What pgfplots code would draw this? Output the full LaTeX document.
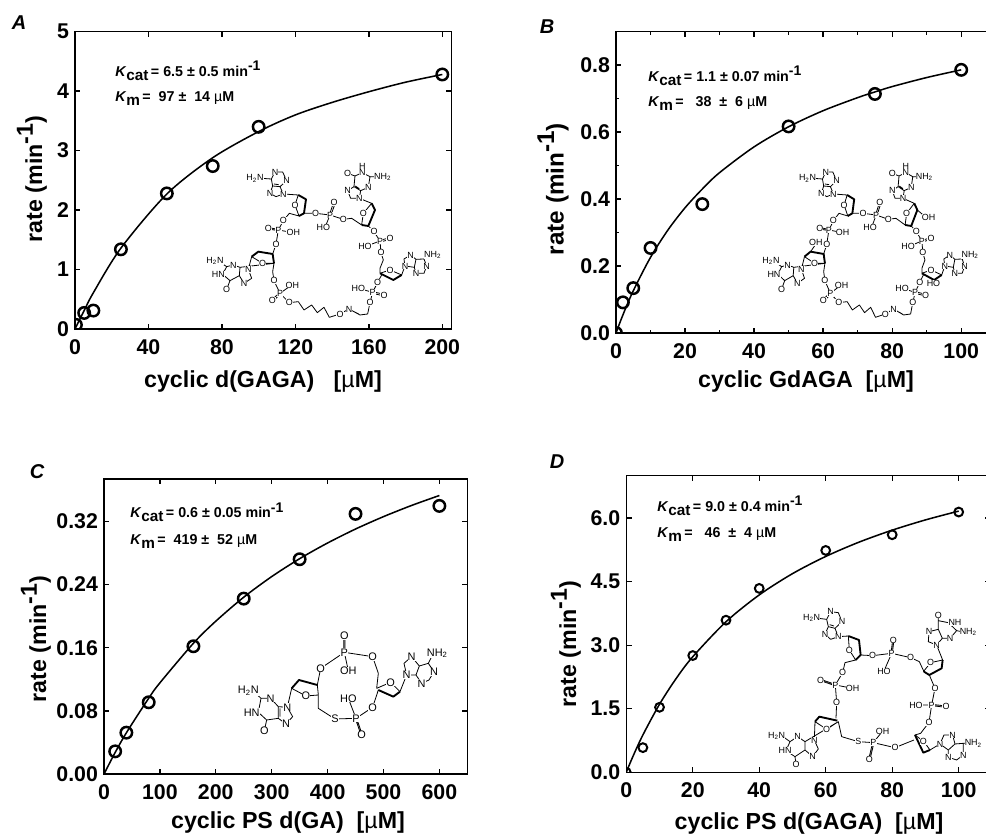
\documentclass[border=0pt]{standalone}
\usepackage{pgfplots}
\pgfplotsset{compat=1.18}
\usepackage{fontspec}
\setmainfont{Liberation Sans}
\newcommand\fs[1]{\fontsize{#1}{#1}\selectfont}
\newcommand\subt[1]{\textsubscript{#1}}
\newcommand\mum{{\mdseries µ}M}
\tikzset{atom/.style={inner sep=0.15pt,fill=white,font=\fs{6.7}},
  bond/.style={line width=0.6pt,line join=round},
  wedge/.style={line width=1.4pt,line join=round},
  lab/.style={font=\fs{17.4}\bfseries,inner sep=0pt},
  note/.style={font=\fs{10.7}\bfseries,inner sep=0pt,anchor=base west},
  pan/.style={font=\fs{15}\bfseries\itshape,inner sep=0pt}}
\newcommand\at[2]{\node[atom] at (#1) {#2};}
\pgfplotsset{panel/.style={
  scale only axis, clip marker paths=true, axis line style={line width=1pt},
  tick align=inside, tick style={line width=1pt,black},
  major tick length=4pt, minor tick length=2.4pt,
  ticklabel style={font=\fs{16}\bfseries},
  /pgf/number format/assume math mode=true,
  xticklabel style={yshift=-4.5pt}, yticklabel style={xshift=-1pt},
  scaled ticks=false},
  curve/.style={black,line width=1.15pt,no marks,smooth},
  pts/.style={only marks,mark=o,mark options={line width=1.85pt,black,fill=none},black}}
\newcommand\note[6]{%
 \node[note] at (#1,#2) {\textit{K}\raisebox{-2.8pt}{\fs{11.5}cat}\,= #4 min\raisebox{4.5pt}{\fs{10.5}-1}};
 \node[note] at (#1,#3) {\textit{K}\raisebox{-2.8pt}{\fs{11.5}m}\,=#5};}
\newcommand\StructGAGA{%
 \draw[bond] (214,57)--(225,36)--(248,36)--(260,62)--(240,80)--(218,78)--cycle (218,78)--(210,100)--(228,110)--(250,102)--(240,80) (222,72)--(236,74) (214,57)--(185,55) (250,102)--(295,105)--(285,135)--(297,168)--(268,160)--(250,182)--(235,210)--(228,253)--(218,282) (312,160)--(347,160)--(390,165)--(430,178)--(455,175)--(485,195)
 (390,165)--(378,195) (388,165)--(400,130) (393,166)--(405,131);
 \draw[wedge] (297,168)--(312,160)--(318,118)--(295,105);
 \draw[bond] (515,130)--(490,160)--(485,195) (478,115)--(515,130) (462,80)--(465,48)--(487,38)--(510,50)--(505,82)--(482,92)--cycle (462,80)--(443,92)--(452,115)--(478,115)--(482,92) (465,48)--(443,40) (510,50)--(530,50) (487,38)--(487,25) (466,78)--(478,86);
 \draw[wedge] (485,195)--(505,198)--(525,150)--(515,130);
 \draw[bond] (505,198)--(522,215)--(540,243)--(543,278)--(550,300)--(540,325)--(540,340) (540,243)--(495,260) (540,241)--(570,233) (541,246)--(571,238);
 \draw[wedge] (540,340)--(580,360)--(605,345);
 \draw[bond] (540,340)--(570,330)--(605,345)--(615,318) (615,318)--(612,297)--(632,285)--(648,298)--(643,322)--cycle (648,298)--(672,297)--(680,318)--(672,340)--(648,340)--(643,322) (672,297)--(690,285);
 \draw[bond] (545,345)--(533,367)--(518,397)--(510,428)--(503,462)--(480,465)--(447,447)--(420,462)--(388,472)--(372,442)--(352,458)--(335,435)--(312,450)--(295,425)--(268,428)--(240,400)--(222,362)--(218,335)--(222,310)--(218,282) (518,397)--(475,385) (518,395)--(552,403) (518,400)--(552,408) (476,462)--(452,450) (240,400)--(275,375) (238,399)--(215,420) (242,402)--(219,423);
 \draw[wedge] (222,310)--(218,282)--(175,275)--(155,290);
 \draw[bond] (222,310)--(188,310)--(155,290)--(145,328)--(155,355)--(132,370)--(118,347)--(120,322)--cycle (120,322)--(100,315)--(80,320)--(68,343)--(90,362)--(118,347) (90,362)--(80,388) (80,320)--(62,308);
 \draw[bond] (235,210)--(280,218) (235,208)--(205,203) (235,212)--(205,207);
 \at{165,55}{H\subt{2}N}\at{225,36}{N}\at{260,62}{N}\at{210,100}{N}\at{250,102}{N}
 \at{285,135}{O}\at{250,182}{O}\at{347,160}{O}\at{390,165}{P}\at{402,128}{O}\at{370,203}{HO}\at{430,178}{O}
 \at{490,160}{O}\at{487,18}{H}\at{487,38}{N}\at{443,40}{O}\at{548,50}{NH\subt{2}}\at{505,82}{N}\at{443,92}{N}\at{478,115}{N}
 \at{522,215}{O}\at{540,243}{P}\at{570,235}{O}\at{495,260}{HO}\at{543,278}{O}
 \at{570,330}{O}\at{615,318}{N}\at{632,285}{N}\at{698,285}{NH\subt{2}}\at{680,318}{N}\at{648,340}{N}
 \at{533,367}{O}\at{518,397}{P}\at{552,405}{O}\at{475,385}{HO}\at{510,428}{O}\at{447,447}{N}\at{420,462}{O}
 \at{268,428}{O}\at{240,400}{P}\at{277,375}{OH}\at{217,422}{O}\at{222,362}{O}
 \at{188,310}{O}\at{228,253}{O}\at{235,210}{P}\at{205,205}{O}\at{280,218}{OH}
 \at{145,328}{N}\at{132,370}{N}\at{100,315}{N}\at{45,303}{H\subt{2}N}\at{55,343}{HN}\at{80,388}{O}}
\begin{document}
\begin{tikzpicture}[x=0.75pt,y=0.75pt]
\useasboundingbox (0,0) rectangle (986,833);
\clip (0,0) rectangle (986,833);
% ---------- A
\begin{axis}[panel,at={(56.25pt,378pt)},anchor=south west,width=282.5pt,height=223pt,
  xmin=0,xmax=205.1,ymin=0,ymax=5,xtick={0,40,80,120,160,200},ytick={0,1,2,3,4,5}]
\addplot[curve] coordinates {(0,0)(5,0.31)(10,0.61)(25,1.36)(50,2.27)(75,2.88)(100,3.32)(120,3.60)(140,3.81)(160,3.99)(180,4.15)(200,4.28)};
\addplot[pts,mark size=4.3pt] coordinates {(0.5,0.07)(5,0.27)(10,0.31)(25,1.34)(50,2.28)(75,2.74)(100,3.40)(200,4.28)};
\end{axis}
% ---------- B
\begin{axis}[panel,at={(462pt,375pt)},anchor=south west,width=283.5pt,height=226pt,
  xmin=0,xmax=109.5,ymin=0,ymax=0.9,xtick={0,20,40,60,80,100},minor xtick={10,30,50,70,90},
  ytick={0,0.2,0.4,0.6,0.8},yticklabels={0.0,0.2,0.4,0.6,0.8},minor ytick={0.1,0.3,0.5,0.7},
  ytick pos=left]
\addplot[curve] coordinates {(0,0)(2,0.054)(5,0.126)(10,0.226)(15,0.307)(20,0.374)(25,0.43)(30,0.479)(40,0.556)(50,0.616)(60,0.664)(70,0.703)(75,0.720)(80,0.736)(90,0.763)(100,0.786)};
\addplot[pts,mark size=4.3pt] coordinates {(0,0)(2,0.0915)(5,0.134)(10,0.254)(25,0.385)(50,0.617)(75,0.714)(100,0.786)};
\end{axis}
% ---------- C
\begin{axis}[panel,at={(78pt,44.25pt)},anchor=south west,width=272.5pt,height=221.3pt,
  xmin=0,xmax=650,ymin=0,ymax=0.374,xtick={0,100,...,600},
  ytick={0,0.08,0.16,0.24,0.32},yticklabels={0.00,0.08,0.16,0.24,0.32}]
\addplot[curve] coordinates {(0,0)(20,0.0273)(40,0.0522)(80,0.0961)(100,0.1155)(160,0.1657)(200,0.1937)(250,0.2241)(300,0.2502)(350,0.2729)(400,0.2928)(450,0.3105)(500,0.3262)(550,0.3403)(600,0.3530)};
\addplot[pts,mark size=4.3pt] coordinates {(20,0.0287)(40,0.0524)(80,0.0909)(160,0.1619)(250,0.2223)(350,0.2722)(450,0.3297)(600,0.3398)};
\end{axis}
% ---------- D
\begin{axis}[panel,at={(469.7pt,45.5pt)},anchor=south west,width=273pt,height=222.5pt,
  xmin=0,xmax=109.5,ymin=0,ymax=7,xtick={0,20,40,60,80,100},
  ytick={0,1.5,3,4.5,6},yticklabels={0.0,1.5,3.0,4.5,6.0}]
\addplot[curve] coordinates {(0,0)(2,0.375)(5,0.882)(10,1.607)(15,2.213)(20,2.727)(30,3.553)(40,4.186)(50,4.688)(60,5.094)(70,5.431)(80,5.714)(90,5.956)(100,6.164)};
\addplot[pts,mark size=3.3pt,mark options={line width=1.5pt}] coordinates {(0,0)(5,0.583)(10,1.535)(20,2.756)(30,3.59)(40,4.34)(60,5.236)(80,5.606)(100,6.142)};
\end{axis}
% ---------- labels
\node[pan] at (19,810) {A};
\node[pan] at (547,806) {B};
\node[pan] at (37,361) {C};
\node[pan] at (557,371) {D};
\node[lab,rotate=90] at (36,194) {rate (min\raisebox{7pt}{-1})};
\node[lab,rotate=90] at (566,189) {rate (min\raisebox{7pt}{-1})};
\node[lab,rotate=90] at (32,654) {rate (min\raisebox{7pt}{-1})};
\node[lab,rotate=90,font=\fs{18.2}\bfseries] at (553,644) {rate (min\raisebox{7pt}{-1})};
\node[lab] at (263,451) {cyclic d(GAGA)\ \ \ [\mum]};
\node[lab] at (806,451) {cyclic GdAGA\ \ [\mum]};
\node[lab] at (288,11) {cyclic PS d(GA)\ \ [\mum]};
\node[lab] at (809,10) {cyclic PS d(GAGA)\ \ [\mum]};
\note{115}{756}{731}{6.5 ± 0.5}{\ \ 97 ±\ \ 14 \mum}{}
\note{648}{751}{726}{1.1 ± 0.07}{\ \ \ 38\ \ ±\ \ 6 \mum}{}
\note{130}{315}{288}{0.6 ± 0.05}{\ \ 419 ±\ \ 52 \mum}{}
\note{657}{321}{295}{9.0 ± 0.4}{\ \ \ 46\ \ ±\ \ 4 \mum}{}
% ---------- structures
\begin{scope}[shift={(200,673)},xscale=0.3333,yscale=-0.3333]
 \StructGAGA
\end{scope}
\begin{scope}[shift={(757.2,673)},xscale=0.305,yscale=-0.3333]
 \StructGAGA
 \draw[bond] (175,275)--(188,258) (525,150)--(548,168) (580,360)--(574,372);
 \at{192,248}{OH}\at{562,172}{OH}\at{578,371}{HO}
\end{scope}
\begin{scope}[shift={(230,213)},xscale=0.3333,yscale=-0.3333,atom/.append style={font=\fs{8.2}}]
 \draw[bond] (93,235)--(122,235)--(145,260)--(145,295)--(110,300)--(85,277)--cycle (145,260)--(172,262)--(188,290)--(168,312)--(145,295) (93,235)--(75,218) (110,300)--(103,332) (150,265)--(150,290)
 (172,262)--(185,205)--(228,228)--(265,225)--(262,195)--(272,145)--(343,97)--(428,110)--(445,160)--(440,205)--(482,187)--(510,215)--(530,165) (265,225)--(265,265)--(315,297)--(378,295)--(428,262)--(445,210) (341,97)--(341,47) (345,97)--(345,47) (343,97)--(355,152) (378,295)--(355,235) (376,295)--(393,345) (380,295)--(397,345)
 (530,165)--(522,130)--(545,110)--(568,138)--(558,165)--cycle (568,138)--(595,130)--(612,155)--(597,180)--(575,190)--(558,165) (595,130)--(605,110);
 \draw[wedge] (185,205)--(207,180)--(262,195);
 \draw[wedge] (445,210)--(490,230)--(510,215);
 \at{55,213}{H\subt{2}N}\at{122,235}{N}\at{65,277}{HN}\at{103,332}{O}\at{172,262}{N}\at{168,312}{N}
 \at{228,228}{O}\at{272,145}{O}\at{343,97}{P}\at{343,47}{O}\at{355,152}{OH}\at{428,110}{O}\at{482,187}{O}
 \at{428,262}{O}\at{378,295}{P}\at{355,235}{HO}\at{395,345}{O}\at{315,297}{S}
 \at{530,165}{N}\at{545,110}{N}\at{622,100}{NH\subt{2}}\at{612,155}{N}\at{575,190}{N}
\end{scope}
\begin{scope}[shift={(760,233)},xscale=0.3333,yscale=-0.3333]
 \draw[bond] (200,58)--(212,35)--(235,38)--(246,65)--(225,85)--(205,80)--cycle (205,80)--(195,103)--(212,118)--(235,110)--(225,85) (200,58)--(175,55) (209,74)--(222,78)
 (235,110)--(265,108)--(268,150)--(287,180)--(255,188)--(248,218)--(226,255)--(230,308)--(228,355) (226,255)--(278,265) (225,253)--(182,238) (225,257)--(182,242)
 (302,165)--(338,167)--(395,160)--(452,173)--(478,185)--(492,215) (395,160)--(372,213) (393,160)--(398,120) (397,160)--(402,120)
 (490,215)--(512,188)--(548,180)--(530,135) (508,225)--(525,265)--(515,315)--(507,367)--(482,400) (515,313)--(558,318) (515,317)--(558,322) (515,315)--(468,315)
 (530,135)--(505,125)--(507,95)--(535,88)--(547,115)--cycle (535,88)--(535,62)--(565,68)--(590,92)--(570,115)--(547,115) (535,62)--(535,45) (590,92)--(605,95)
 (482,400)--(465,405)--(492,425)--(510,450)--(540,432) (462,420)--(405,443)--(340,428)--(295,425)--(245,410)--(235,365) (340,428)--(368,393) (338,428)--(326,478) (342,428)--(330,478)
 (540,432)--(552,405)--(578,405)--(585,432)--(565,450)--cycle (585,432)--(610,430)--(610,465)--(590,480)--(565,472)--(565,450) (610,430)--(625,430)
 (235,365)--(200,388)--(165,365)--(163,420)--(175,447)--(158,470)--(135,450)--(135,425)--cycle (135,425)--(113,410)--(90,425)--(78,452)--(105,470)--(135,450) (105,470)--(108,493) (90,425)--(72,412);
 \draw[wedge] (287,180)--(302,165)--(297,120)--(265,108);
 \draw[wedge] (492,215)--(508,225)--(545,205)--(548,180);
 \draw[wedge] (465,405)--(490,458)--(510,450);
 \draw[wedge] (232,362)--(178,350)--(165,365);
 \at{155,53}{H\subt{2}N}\at{212,35}{N}\at{246,65}{N}\at{195,103}{N}\at{235,110}{N}
 \at{268,150}{O}\at{248,218}{O}\at{226,255}{P}\at{182,240}{O}\at{278,265}{OH}\at{230,308}{O}
 \at{338,167}{O}\at{395,160}{P}\at{400,120}{O}\at{372,213}{HO}\at{452,173}{O}
 \at{512,188}{O}\at{530,135}{N}\at{507,95}{N}\at{535,45}{O}\at{585,68}{NH}\at{625,95}{NH\subt{2}}\at{570,115}{N}
 \at{525,265}{O}\at{515,315}{P}\at{468,315}{HO}\at{558,320}{O}\at{507,367}{O}
 \at{490,425}{O}\at{540,432}{N}\at{578,405}{N}\at{640,430}{NH\subt{2}}\at{610,465}{N}\at{565,472}{N}
 \at{405,443}{O}\at{340,428}{P}\at{368,393}{OH}\at{328,478}{O}\at{295,425}{S}
 \at{200,388}{O}\at{163,420}{N}\at{158,470}{N}\at{113,410}{N}\at{50,408}{H\subt{2}N}\at{75,452}{HN}\at{108,493}{O}
\end{scope}
\end{tikzpicture}
\end{document}
